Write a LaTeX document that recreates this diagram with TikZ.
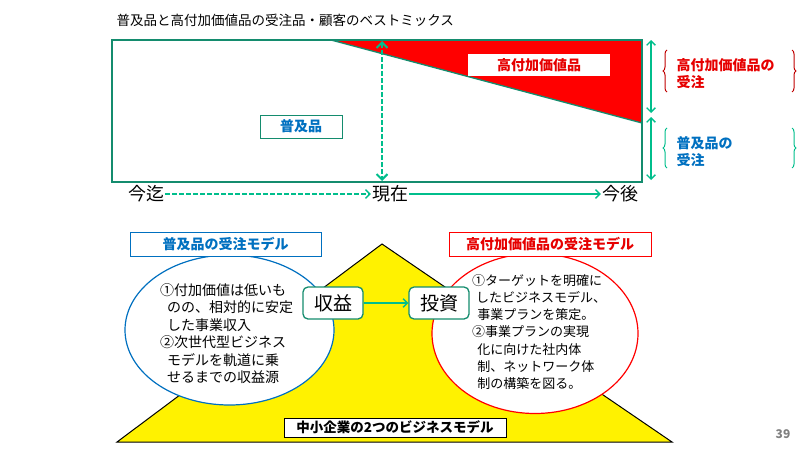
\documentclass[tikz,border=0pt]{standalone}
\usepackage{fontspec}
\setmainfont{Noto Sans CJK JP}
\usetikzlibrary{arrows.meta,positioning,shapes.geometric,decorations.pathreplacing}
\definecolor{dgreen}{RGB}{20,140,110}
\definecolor{agreen}{RGB}{0,190,140}
\definecolor{hblue}{RGB}{0,112,192}
\definecolor{hred}{RGB}{230,0,0}
\definecolor{bred}{RGB}{192,0,0}
\newcommand{\fz}[2]{\fontsize{#1}{#2}\selectfont}

\begin{document}
\begin{tikzpicture}[x=1pt,y=-1pt,
  frame/.style={draw=dgreen,line width=1.3pt},
  gline/.style={draw=agreen,line width=1.4pt},
  dashes/.style={dash pattern=on 4.5pt off 2.5pt},
  tag/.style={draw=#1,fill=white,line width=1pt,inner sep=2pt,font=\bfseries\fz{14}{16}},
  money/.style={draw=dgreen,fill=white,rounded corners=5pt,line width=1.3pt,
    minimum width=60,minimum height=32,font=\fz{19}{21}},
  bracel/.style={draw=#1,line width=1pt,decorate,decoration={brace,amplitude=4pt}}]
  \useasboundingbox (0,0) rectangle (800,450);

  \node[anchor=west,font=\fz{13.5}{16}] (title) at (113,20)
    {普及品と高付加価値品の受注品・顧客のベストミックス};

  % upper chart
  \fill[red] (331,40) -- (642,40) -- (642,123) -- cycle;
  \draw[frame] (331,40) -- (642,123);
  \draw[frame] (112,40) rectangle (642,182);
  \node[fill=white,minimum width=142,minimum height=22,text=hred,
    font=\bfseries\fz{14}{16}] (hvlabel) at (539,65) {高付加価値品};
  \node[tag=dgreen,text=hblue,minimum width=82,minimum height=23] (poplabel)
    at (301,126.5) {普及品};
  \draw[gline,dashes,line width=2pt,{Straight Barb}-{Straight Barb}] (382,41) -- (382,181);

  % time axis
  \node[font=\fz{18}{20},inner sep=1pt] (past) at (146,194) {今迄};
  \node[font=\fz{18}{20},inner sep=1pt] (now) at (390,194) {現在};
  \node[font=\fz{18}{20},inner sep=1pt] (future) at (620,194) {今後};
  \draw[gline,dashes,-{Straight Barb}] (past) -- (now);
  \draw[gline,-{Straight Barb}] (now) -- (future);

  % share of orders
  \draw[gline,{Straight Barb}-{Straight Barb}] (651,40) -- (651,113);
  \draw[gline,{Straight Barb}-{Straight Barb}] (651,117) -- (651,180);
  \draw[bracel=bred] (667,92) -- (667,50);
  \draw[bracel=bred] (792,50) -- (792,92);
  \draw[bracel=agreen] (667,168) -- (667,128);
  \draw[bracel=agreen] (792,128) -- (792,168);
  \node[anchor=west,align=left,text=hred,font=\bfseries\fz{14}{17.5}] (hvorder)
    at (673,73.5) {高付加価値品の\\受注};
  \node[anchor=west,align=left,text=hblue,font=\bfseries\fz{14}{17.5}] (poporder)
    at (673,151.5) {普及品の\\受注};

  % two business models
  \draw[fill=yellow,line width=1pt] (382,244) -- (672,442) -- (117,442) -- cycle;
  \node[ellipse,draw=hblue,fill=white,line width=1.2pt,minimum width=209,
    minimum height=150] (lowell) at (229.5,330) {};
  \node[ellipse,draw=red,fill=white,line width=1.2pt,minimum width=206,
    minimum height=160] (highell) at (535,333.5) {};
  \node[tag=hblue,text=hblue,minimum width=191,minimum height=24] (lowtag)
    at (225.5,244) {普及品の受注モデル};
  \node[tag=red,text=hred,minimum width=202,minimum height=24] (hightag)
    at (550,244) {高付加価値品の受注モデル};
  \node[anchor=north west,align=left,inner sep=0pt,font=\fz{14}{17.4}] (lowtxt)
    at (160,283.5) {①付加価値は低いも\\\hspace{0.5em}のの、相対的に安定\\
    \hspace{0.5em}した事業収入\\②次世代型ビジネス\\
    \hspace{0.5em}モデルを軌道に乗\\\hspace{0.5em}せるまでの収益源};
  \node[anchor=north west,align=left,inner sep=0pt,font=\fz{13}{17.2}] (hightxt)
    at (472,274) {①ターゲットを明確に\\\hspace{0.3em}したビジネスモデル、\\
    \hspace{0.4em}事業プランを策定。\\②事業プランの実現\\
    \hspace{0.4em}化に向けた社内体\\\hspace{0.4em}制、ネットワーク体\\
    \hspace{0.4em}制の構築を図る。};
  \node[money] (gain) at (333,303) {収益};
  \node[money] (invest) at (439,303) {投資};
  \draw[gline,-{Straight Barb}] (gain) -- (invest);
  \node[draw=black,fill=white,line width=1pt,inner sep=2pt,minimum width=222,
    minimum height=19,font=\bfseries\fz{13.5}{16}] (sme) at (395,427.5)
    {中小企業の2つのビジネスモデル};

  \node[text=gray,font=\bfseries\fz{12}{14}] (page) at (783,434) {39};
\end{tikzpicture}
\end{document}
